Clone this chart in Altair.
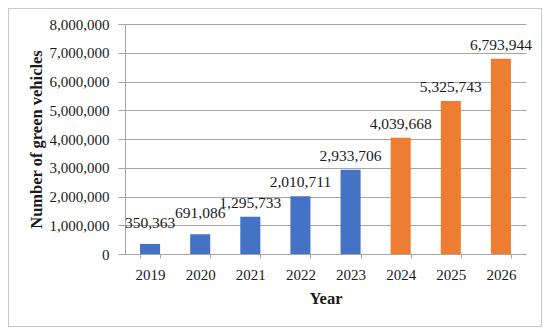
import altair as alt
import pandas as pd

years = ["2019", "2020", "2021", "2022", "2023", "2024", "2025", "2026"]
values = [350363, 691086, 1295733, 2010711, 2933706, 4039668, 5325743, 6793944]
kind = ["Actual", "Actual", "Actual", "Actual", "Actual", "Forecast", "Forecast", "Forecast"]
y_ticks = [0, 1000000, 2000000, 3000000, 4000000, 5000000, 6000000, 7000000, 8000000]

df = pd.DataFrame({"Year": years, "Value": values, "Kind": kind})

FONT = "Liberation Serif"
GRID = "#a6a6a6"
TXT = "#1a1a1a"

x = alt.X("Year:N", title="Year", sort=years,
          scale=alt.Scale(paddingInner=0.6, paddingOuter=0.3),
          axis=alt.Axis(labelAngle=0, labelFont=FONT, labelFontSize=15, labelColor=TXT,
                        titleFont=FONT, titleFontSize=16.5, titleFontWeight="bold", titleColor=TXT,
                        tickColor=GRID, tickSize=4, domainColor=GRID, labelPadding=9,
                        titlePadding=8, tickBand="extent", grid=False))
y = alt.Y("Value:Q", title="Number of green vehicles",
          scale=alt.Scale(domain=[0, 8000000], nice=False),
          axis=alt.Axis(values=y_ticks, format=",d", labelOverlap=False,
                        labelFont=FONT, labelFontSize=15, labelColor=TXT,
                        titleFont=FONT, titleFontSize=16.5, titleFontWeight="bold", titleColor=TXT,
                        tickColor=GRID, tickSize=7, domainColor=GRID, gridColor=GRID,
                        labelPadding=9, titlePadding=5))

color = alt.Color("Kind:N", scale=alt.Scale(domain=["Actual", "Forecast"],
                                            range=["#4472C4", "#ED7D31"]), legend=None)

bars = alt.Chart(df).mark_bar().encode(x=x, y=y, color=color)

labels_low = alt.Chart(df).transform_filter(
    alt.FieldOneOfPredicate(field="Year", oneOf=["2019", "2020"])
).mark_text(font=FONT, fontSize=15.5, color=TXT, baseline="alphabetic", dy=-16).encode(
    x=x, y=y, text=alt.Text("Value:Q", format=",d"))

labels_high = alt.Chart(df).transform_filter(
    ~alt.FieldOneOfPredicate(field="Year", oneOf=["2019", "2020"])
).mark_text(font=FONT, fontSize=15.5, color=TXT, baseline="alphabetic", dy=-9).encode(
    x=x, y=y, text=alt.Text("Value:Q", format=",d"))

border = alt.Chart(df).mark_rect(fill=None, stroke="#c8c8c8", strokeWidth=1, clip=False).encode(
    x=alt.value(-116.5), x2=alt.value(416.5), y=alt.value(-15.5), y2=alt.value(302.5))

chart = alt.layer(bars, labels_low, labels_high, border).properties(
    width=401, height=230,
    autosize=alt.AutoSizeParams(type="none"),
    padding={"left": 117, "top": 16, "right": 16, "bottom": 73},
    background="white",
).configure_view(stroke=None)

chart.save("out.html", embed_options={"renderer": "svg", "actions": False})
